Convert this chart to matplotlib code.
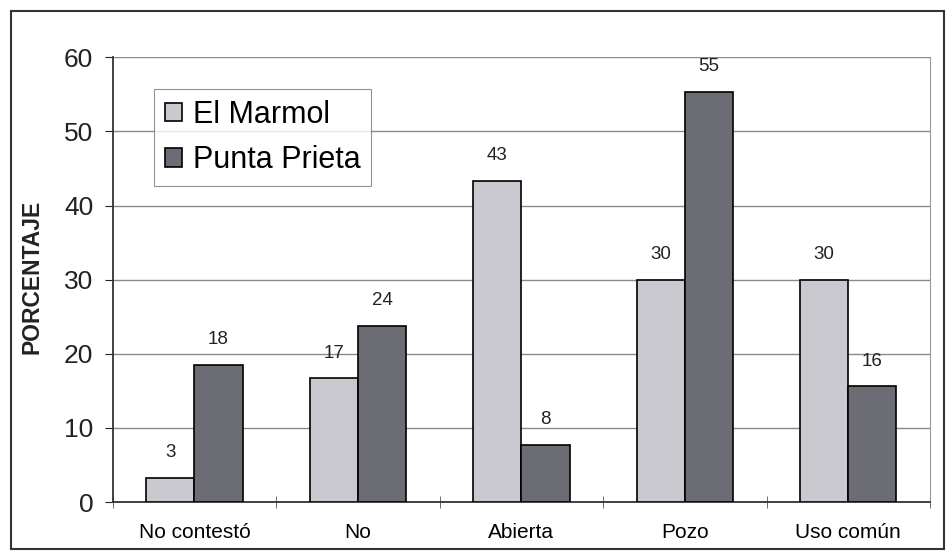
import matplotlib.pyplot as plt
import matplotlib.patches as mpatches
import numpy as np

plt.rcParams['font.family'] = ['Liberation Sans', 'DejaVu Sans']

categorias = ["No contestó", "No", "Abierta", "Pozo", "Uso común"]
el_marmol = [3.3, 16.7, 43.3, 30.0, 30.0]
punta_prieta = [18.5, 23.8, 7.7, 55.3, 15.6]

fig = plt.figure(figsize=(9.47, 5.56), dpi=100)
ax = fig.add_axes([0.119, 0.097, 0.863, 0.8])

x = np.arange(len(categorias))
w = 0.295
b1 = ax.bar(x - w / 2, el_marmol, w, color="#c9c9cf", edgecolor="black", linewidth=1.2, label="El Marmol", zorder=3)
b2 = ax.bar(x + w / 2, punta_prieta, w, color="#6c6c74", edgecolor="black", linewidth=1.2, label="Punta Prieta", zorder=3)

for bars, vals in ((b1, el_marmol), (b2, punta_prieta)):
    for r, v in zip(bars, vals):
        ax.annotate(f"{v:.0f}", (r.get_x() + r.get_width() / 2, v), xytext=(0, 12),
                    textcoords="offset points", ha="center", va="bottom", fontsize=13.5, color="#222222")

ax.set_xlim(-0.5, len(categorias) - 0.5)
ax.set_ylim(0, 60)
ax.set_yticks(range(0, 61, 10))
ax.tick_params(axis="y", labelsize=19, direction="out", length=6, pad=8, colors="#222222")
ax.set_xticks(x)
ax.set_xticklabels(categorias, fontsize=15)
ax.set_xticks(np.arange(-0.5, len(categorias), 1), minor=True)
ax.tick_params(axis="x", which="major", length=0, pad=15)
ax.tick_params(axis="x", which="minor", direction="inout", length=8, color="#555555")
ax.grid(axis="y", color="#8a8a8a", linewidth=1, zorder=0)

ax.spines["left"].set_color("#333333")
ax.spines["bottom"].set_color("#333333")
ax.spines["left"].set_linewidth(1.3)
ax.spines["bottom"].set_linewidth(1.3)
ax.spines["right"].set_color("#999999")
ax.spines["top"].set_visible(False)

fig.text(0.034, 0.502, "PORCENTAJE", rotation=90, ha="center", va="center",
         fontsize=16.5, fontweight="bold", color="#222222")

leg = ax.legend(loc="upper left", bbox_to_anchor=(0.051, 0.928), fontsize=22, frameon=True,
                fancybox=False, edgecolor="#777777", borderpad=0.35, handlelength=0.55,
                handleheight=0.55, handletextpad=0.35, labelspacing=0.5, borderaxespad=0)
leg.get_frame().set_linewidth(0.8)

fig.patches.append(mpatches.Rectangle((0.012, 0.012), 0.985, 0.968, transform=fig.transFigure,
                                      fill=False, edgecolor="#333333", linewidth=1.5))

plt.savefig("out.png", dpi=100)
